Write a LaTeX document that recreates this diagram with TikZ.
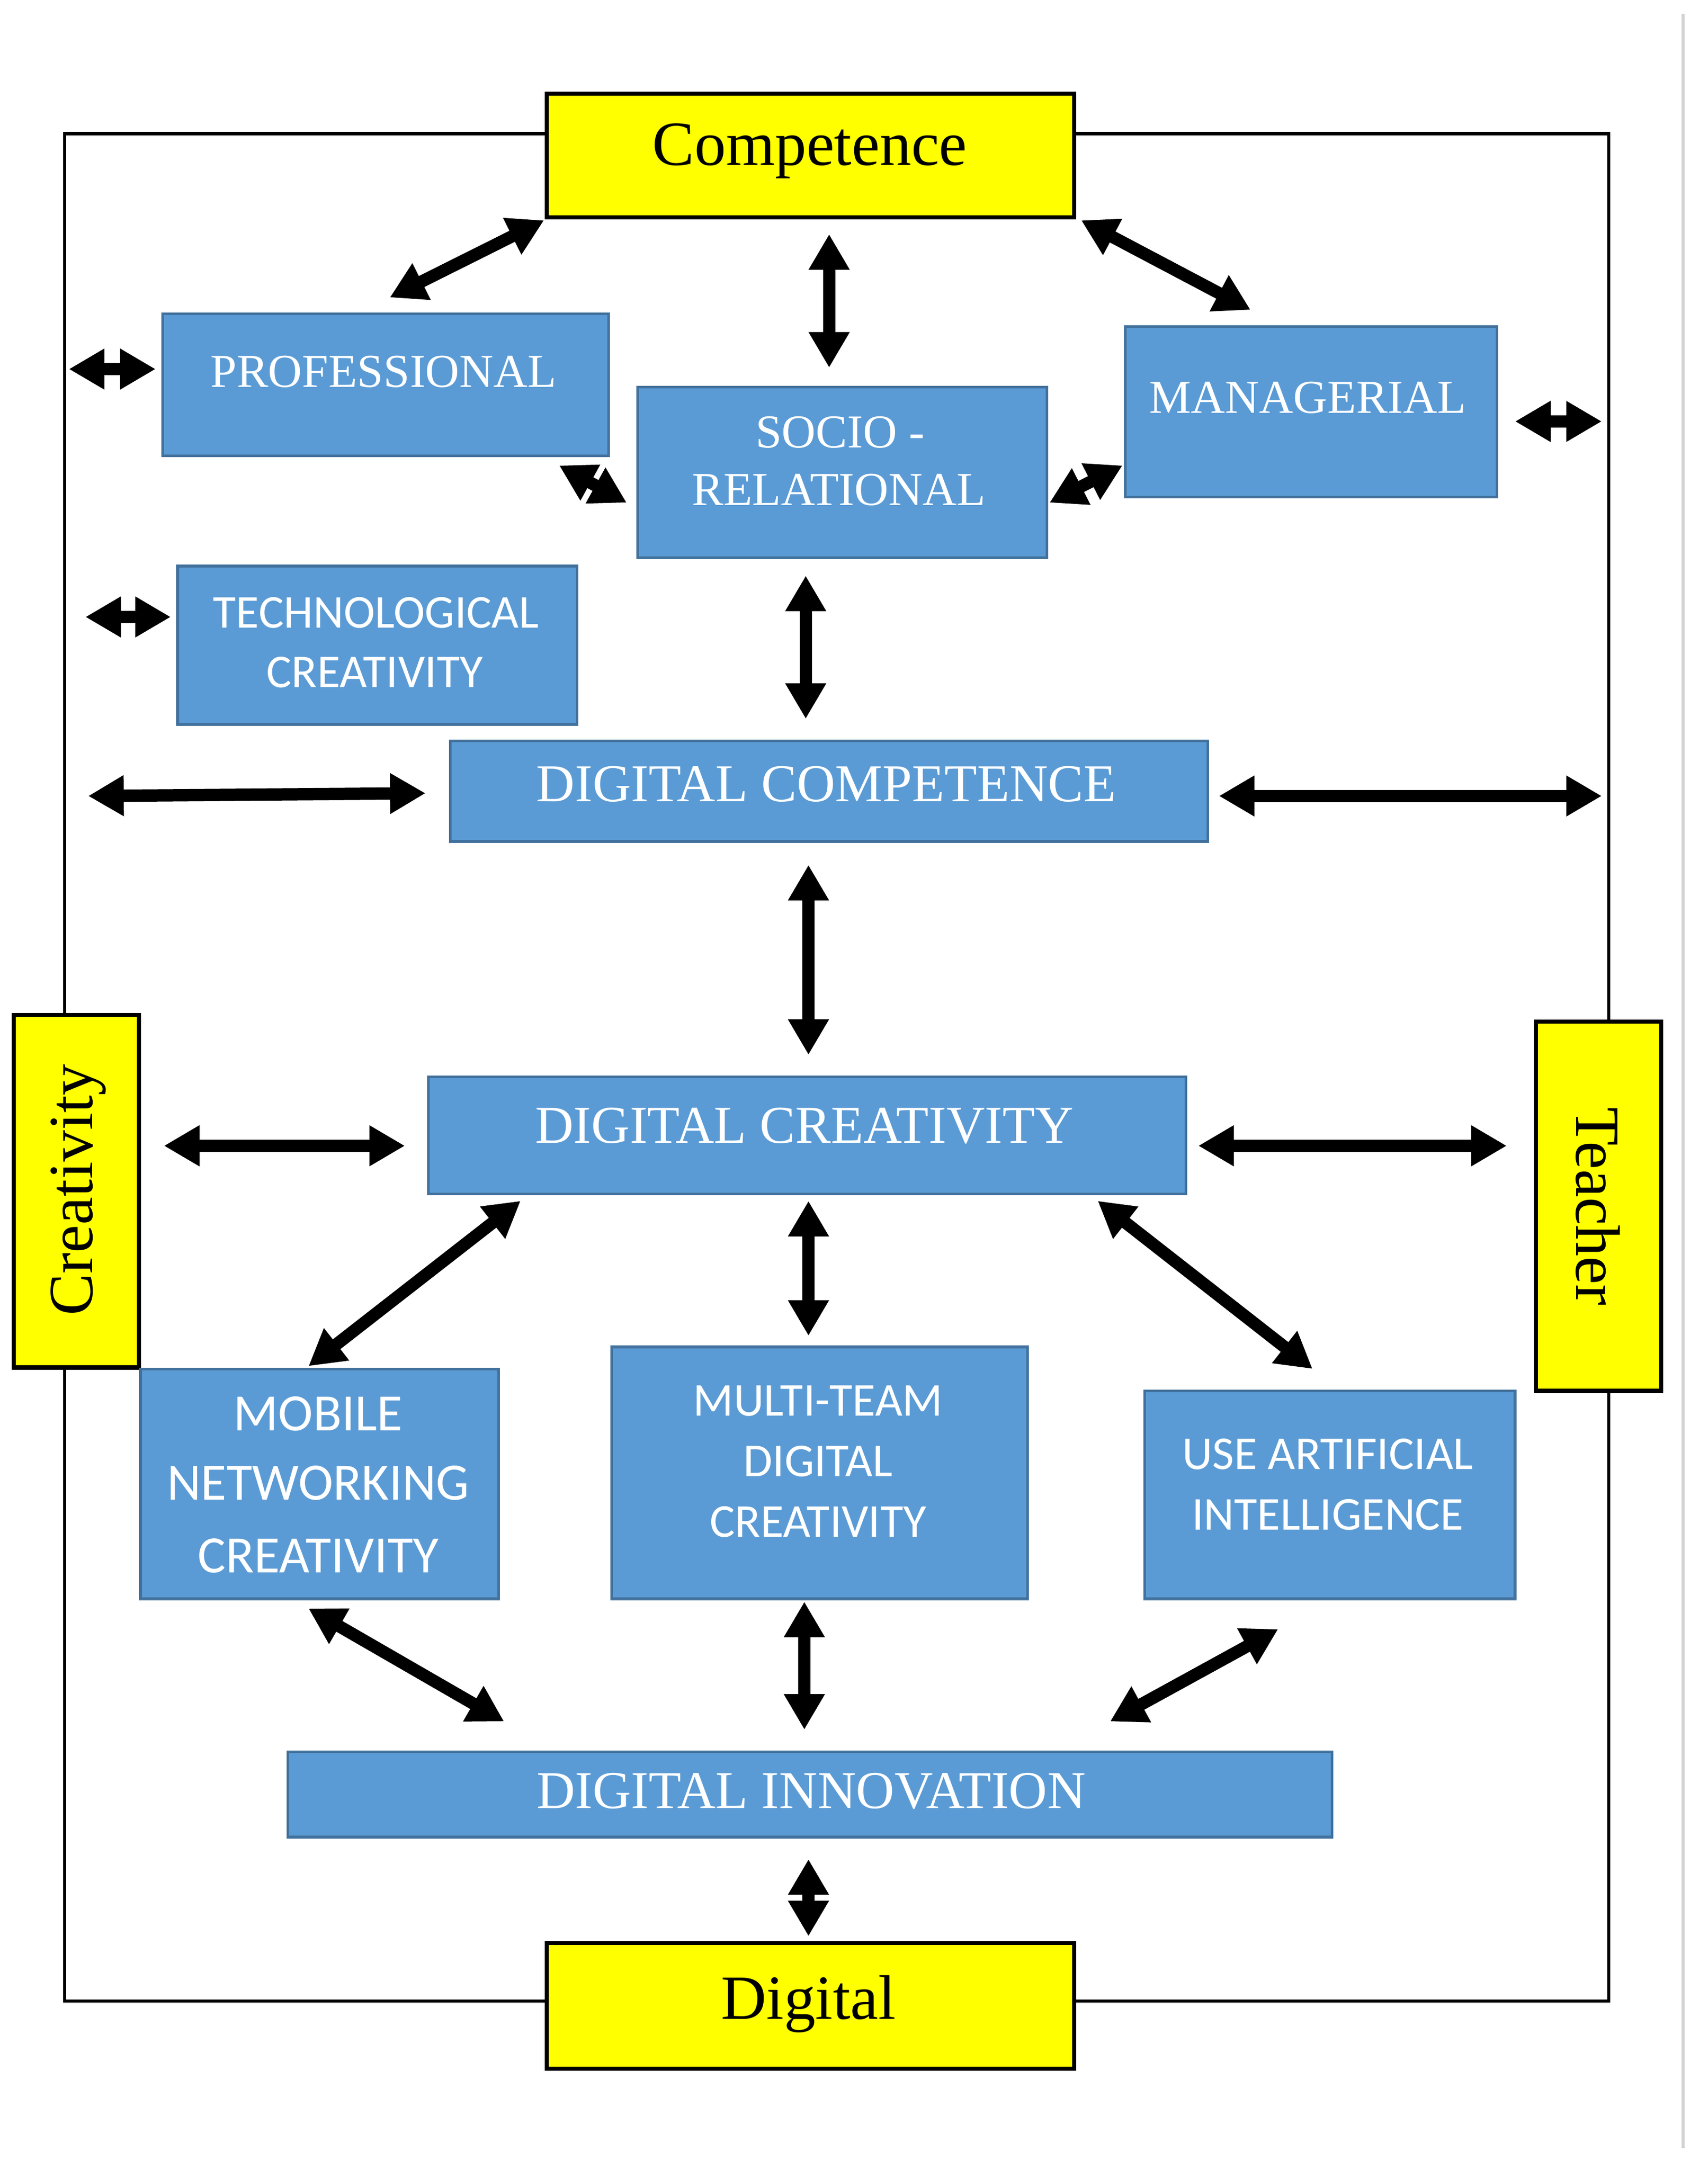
\documentclass[tikz,border=0pt]{standalone}
\usepackage{fontspec}
\setmainfont{Liberation Serif}
\newfontfamily\calib{Carlito}
\usetikzlibrary{arrows.meta,fit}
\definecolor{boxblue}{HTML}{5B9BD5}
\definecolor{boxedge}{HTML}{41719C}
\definecolor{ylw}{HTML}{FFFF00}
\begin{document}
\begin{tikzpicture}[x=0.02cm,y=-0.02cm,
  bluebox/.style={draw=boxedge,fill=boxblue,line width=1.1pt,inner sep=0pt},
  ybox/.style={draw=black,fill=ylw,line width=1.7pt,inner sep=0pt},
  wserif/.style={text=white,anchor=base,inner sep=0pt,font=\fontsize{19.5}{23}\selectfont},
  wserifbig/.style={text=white,anchor=base,inner sep=0pt,font=\fontsize{22}{26}\selectfont},
  wsans/.style={text=white,anchor=base,inner sep=0pt,font=\calib\fontsize{19.5}{23}\selectfont},
  wsansbig/.style={text=white,anchor=base,inner sep=0pt,font=\calib\fontsize{21.7}{26}\selectfont},
  ytext/.style={text=black,inner sep=0pt,font=\fontsize{26}{30}\selectfont},
  dbl/.style={line width=5.1pt,{Triangle[length=14.7pt,width=15.9pt]}-{Triangle[length=14.7pt,width=15.9pt]}},
  frame/.style={line width=1.4pt}]
\useasboundingbox (0,0) rectangle (1240,1575);
% page edge line
\draw[gray!35,line width=1.1pt] (1222,10) -- (1222,1560);
% outer frame
\draw[frame] (47,97) rectangle (1168,1453);
% yellow boxes
\node[ybox,fit={(397,68) (780,158)}] (comp) {};
\node[ytext,anchor=base] (compT) at (588,120) {Competence};
\node[ybox,fit={(397,1411) (780,1502)}] (dig) {};
\node[ytext,anchor=base] (digT) at (587,1466) {Digital};
\node[ybox,fit={(10,737) (101,993)}] (cre) {};
\node[ytext,rotate=90] (creT) at (57,864) {Creativity};
\node[ybox,fit={(1115,742) (1206,1010)}] (tea) {};
\node[ytext,rotate=-90] (teaT) at (1160,876) {Teacher};
% blue boxes
\node[bluebox,fit={(118,228) (442,331)}] (prof) {};
\node[wserif] (profT) at (278.5,281) {PROFESSIONAL};
\node[bluebox,fit={(463,281) (760,405)}] (socio) {};
\node[wserif] (socioT1) at (610,325) {SOCIO -};
\node[wserif] (socioT2) at (609,367) {RELATIONAL};
\node[bluebox,fit={(817,237) (1087,361)}] (man) {};
\node[wserif] (manT) at (949.5,300) {MANAGERIAL};
\node[bluebox,fit={(129,411) (419,526)}] (tech) {};
\node[wsans] (techT1) at (273,456) {TECHNOLOGICAL};
\node[wsans] (techT2) at (272,499) {CREATIVITY};
\node[bluebox,fit={(327,538) (877,611)}] (dcomp) {};
\node[wserifbig] (dcompT) at (600,582) {DIGITAL COMPETENCE};
\node[bluebox,fit={(311,782) (861,867)}] (dcre) {};
\node[wserifbig] (dcreT) at (584,830) {DIGITAL CREATIVITY};
\node[bluebox,fit={(102,994) (362,1161)}] (mob) {};
\node[wsansbig] (mobT1) at (231,1039) {MOBILE};
\node[wsansbig] (mobT2) at (231,1089) {NETWORKING};
\node[wsansbig] (mobT3) at (231,1142) {CREATIVITY};
\node[bluebox,fit={(444,978) (746,1161)}] (multi) {};
\node[wsans] (multiT1) at (594,1028) {MULTI-TEAM};
\node[wsans] (multiT2) at (594,1072) {DIGITAL};
\node[wsans] (multiT3) at (594,1116) {CREATIVITY};
\node[bluebox,fit={(831,1010) (1100,1161)}] (ai) {};
\node[wsans] (aiT1) at (964,1067) {USE ARTIFICIAL};
\node[wsans] (aiT2) at (964,1111) {INTELLIGENCE};
\node[bluebox,fit={(209,1272) (967,1334)}] (dinn) {};
\node[wserifbig] (dinnT) at (589,1313) {DIGITAL INNOVATION};
% arrow end points
\coordinate (c1a) at (395,160);  \coordinate (c1b) at (283,216);
\coordinate (c2a) at (602,170);  \coordinate (c2b) at (602,267);
\coordinate (c3a) at (785,160);  \coordinate (c3b) at (908,225);
\coordinate (c4a) at (50,268);   \coordinate (c4b) at (113,268);
\coordinate (c5a) at (406,338);  \coordinate (c5b) at (455,365);
\coordinate (c6a) at (815,338);  \coordinate (c6b) at (762,365);
\coordinate (c7a) at (1100,306); \coordinate (c7b) at (1163,306);
\coordinate (c8a) at (62,448);   \coordinate (c8b) at (124,448);
\coordinate (c9a) at (585,418);  \coordinate (c9b) at (585,522);
\coordinate (c10a) at (64,578);  \coordinate (c10b) at (309,576);
\coordinate (c11a) at (885,578); \coordinate (c11b) at (1163,578);
\coordinate (c12a) at (587,628); \coordinate (c12b) at (587,766);
\coordinate (c13a) at (119,832); \coordinate (c13b) at (294,832);
\coordinate (c14a) at (870,832); \coordinate (c14b) at (1094,832);
\coordinate (c15a) at (378,872); \coordinate (c15b) at (224,992);
\coordinate (c16a) at (587,872); \coordinate (c16b) at (587,970);
\coordinate (c17a) at (797,872); \coordinate (c17b) at (953,994);
\coordinate (c18a) at (224,1168); \coordinate (c18b) at (366,1250);
\coordinate (c19a) at (584,1163); \coordinate (c19b) at (584,1256);
\coordinate (c20a) at (928,1183); \coordinate (c20b) at (806,1250);
\coordinate (c21a) at (587,1350); \coordinate (c21b) at (587,1406);
\foreach \i in {1,...,21} {\draw[dbl] (c\i a) -- (c\i b);}
\end{tikzpicture}
\end{document}
